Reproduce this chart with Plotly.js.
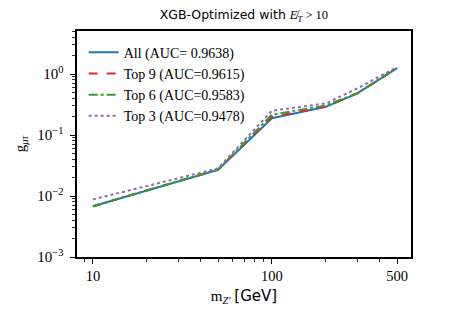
<!DOCTYPE html>
<html>
<head>
<meta charset="utf-8">
<script src="https://cdn.plot.ly/plotly-3.0.1.min.js"></script>
<style>html,body{margin:0;padding:0;background:#fff;}#chart{width:458px;height:311px;}</style>
</head>
<body>
<div id="chart"></div>
<script>
const masses = [10, 50, 100, 200, 300, 500];
const gAll  = [0.0068, 0.0268, 0.188, 0.290, 0.480, 1.25];
const gTop9 = [0.0068, 0.0270, 0.198, 0.292, 0.480, 1.25];
const gTop6 = [0.0068, 0.0272, 0.216, 0.305, 0.485, 1.25];
const gTop3 = [0.0088, 0.0284, 0.250, 0.330, 0.580, 1.30];
const seriesNames = ['All (AUC= 0.9638)', 'Top 9 (AUC=0.9615)', 'Top 6 (AUC=0.9583)', 'Top 3 (AUC=0.9478)'];
const xTickVals = [10, 100, 500];
const xTickText = ['10', '100', '500'];
const yTickVals = [0.001, 0.01, 0.1, 1];
const yTickText = ['10<sup>\u22123</sup>', '10<sup>\u22122</sup>', '10<sup>\u22121</sup>', '10<sup>0</sup>'];

const colors = ['#1f77b4', '#e4262a', '#2ca02c', '#9467bd'];
const dashes = ['solid', 'dash', 'dashdot', 'dot'];
const ys = [gAll, gTop9, gTop6, gTop3];

const traces = ys.map((y, i) => ({
  x: masses, y: y, name: seriesNames[i], type: 'scatter', mode: 'lines',
  line: {color: colors[i], dash: dashes[i], width: 2}
}));

const xMinor = [], yMinor = [];
for (const d of [1, 10, 100]) for (let k = 2; k <= 9; k++) xMinor.push(k * d);
for (const d of [0.001, 0.01, 0.1, 1]) for (let k = 2; k <= 9; k++) yMinor.push(k * d);

const serif = 'Liberation Serif, Times New Roman, serif';
const layout = {
  width: 458, height: 311,
  margin: {l: 77, r: 47, t: 31, b: 54},
  paper_bgcolor: '#fff', plot_bgcolor: '#fff',
  showlegend: true,
  title: {text: 'XGB-Optimized with <span style="font-family:Liberation Serif"><i>E\u0338</i><sub><i>T</i></sub> > 10</span>',
          font: {family: 'DejaVu Sans', size: 12.5, color: '#000'}, x: 0.5325, xanchor: 'center', y: 0.952, yanchor: 'middle'},
  xaxis: {
    type: 'log', range: [0.911, 2.777],
    tickmode: 'array', tickvals: xTickVals, ticktext: xTickText,
    ticks: 'outside', ticklen: 5, tickwidth: 1, tickcolor: '#000',
    minor: {tickmode: 'array', tickvals: xMinor, ticks: 'outside', ticklen: 3, tickwidth: 0.8, tickcolor: '#000'},
    showline: true, linecolor: '#000', linewidth: 1.6, mirror: true,
    showgrid: false, zeroline: false, ticklabelstandoff: 0,
    tickfont: {family: serif, size: 14.5, color: '#000'},
    title: {text: 'm<sub><i>Z\u2032</i></sub> <span style="font-family:DejaVu Sans">[GeV]</span>',
            font: {family: serif, size: 15, color: '#000'}, standoff: 7}
  },
  yaxis: {
    type: 'log', range: [-3, 0.705],
    tickmode: 'array', tickvals: yTickVals, ticktext: yTickText,
    ticks: 'outside', ticklen: 5, tickwidth: 1, tickcolor: '#000',
    minor: {tickmode: 'array', tickvals: yMinor, ticks: 'outside', ticklen: 3, tickwidth: 0.8, tickcolor: '#000'},
    showline: true, linecolor: '#000', linewidth: 1.6, mirror: true,
    showgrid: false, zeroline: false, ticklabelstandoff: 4,
    tickfont: {family: serif, size: 15, color: '#000'},
    title: {text: 'g<sub><i>\u03bc\u03c4</i></sub>', font: {family: serif, size: 15, color: '#000'}, standoff: 8}
  },
  legend: {x: 0.02, y: 0.975, xanchor: 'left', yanchor: 'top', bgcolor: 'rgba(255,255,255,0)',
           borderwidth: 0, font: {family: serif, size: 14, color: '#000'}, tracegroupgap: 0}
};

Plotly.newPlot('chart', traces, layout, {displayModeBar: false, staticPlot: true});
</script>
</body>
</html>
